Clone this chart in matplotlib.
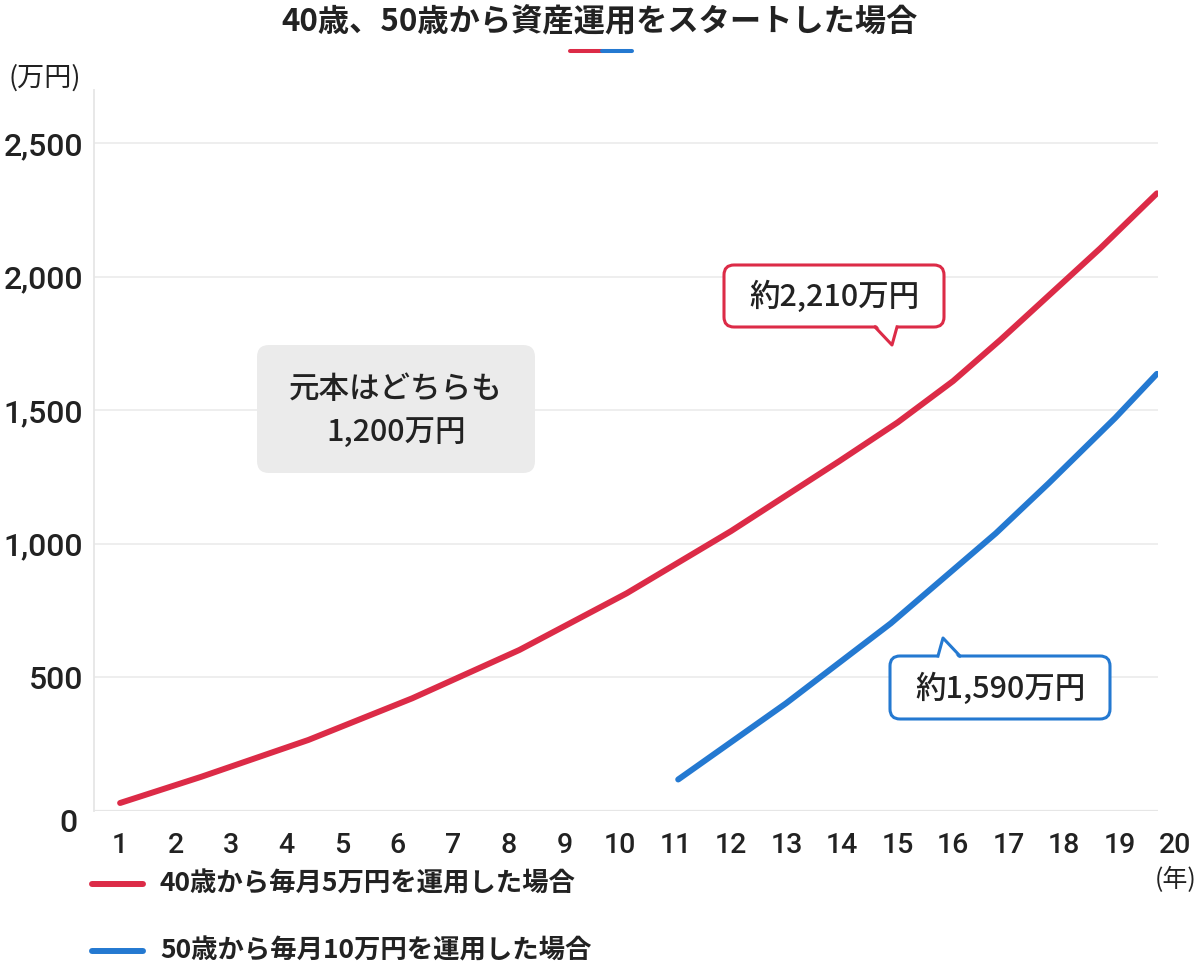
import matplotlib
matplotlib.use("Agg")
import matplotlib.pyplot as plt
from matplotlib.patches import FancyBboxPatch, Polygon
from matplotlib.lines import Line2D
from matplotlib.ticker import FuncFormatter

# values (万円)
years = list(range(1, 21))
red_x = [1.0, 2.46, 4.39, 6.26, 8.19, 10.12, 12.0, 13.95, 15.0, 16.0, 16.85, 18.65, 19.67]
red_y = [30, 128, 266, 422, 603, 815, 1048, 1310, 1455, 1610, 1764, 2107, 2313]
blue_x = [11.05, 12.99, 14.88, 16.77, 17.72, 18.92, 19.67]
blue_y = [118, 403, 703, 1040, 1227, 1472, 1637]
y_ticks = [500, 1000, 1500, 2000, 2500]
series_labels = ["40歳から毎月5万円を運用した場合", "50歳から毎月10万円を運用した場合"]
title = "40歳、50歳から資産運用をスタートした場合"
red_note = "約2,210万円"
blue_note = "約1,590万円"
principal_lines = ["元本はどちらも", "1,200万円"]

RED = "#dc2b47"
BLUE = "#2479d1"
GRID = "#ebebeb"
TEXT = "#222222"
JP = ["Noto Sans CJK JP", "DejaVu Sans"]
NUM = ["Roboto", "Noto Sans CJK JP"]

W, H = 1200, 971
fig = plt.figure(figsize=(W / 100, H / 100), dpi=100)
ax = fig.add_axes([94 / W, 1 - 811 / H, (1158 - 94) / W, (811 - 90) / H])


def px(x, y):
    """picture pixel (y down) -> inches for fig.dpi_scale_trans"""
    return (x / 100, (H - y) / 100)


# lines
ax.plot(red_x, red_y, color=RED, lw=4.3, solid_capstyle="round",
        solid_joinstyle="round", zorder=3)
ax.plot(blue_x, blue_y, color=BLUE, lw=4.3, solid_capstyle="round",
        solid_joinstyle="round", zorder=3)

ax.set_xlim(0.53, 19.69)
ax.set_ylim(0, 2700)

for s in ["top", "right", "bottom"]:
    ax.spines[s].set_visible(False)
ax.spines["left"].set_color("#e6e6e6")
ax.spines["left"].set_linewidth(1.3)
ax.axhline(0, color="#e6e6e6", lw=1.6, zorder=1)

ax.set_yticks(y_ticks)
ax.yaxis.set_major_formatter(FuncFormatter(lambda v, p: f"{int(v):,}"))
ax.grid(axis="y", color=GRID, lw=1.2, zorder=0)
ax.set_axisbelow(True)
ax.tick_params(axis="y", length=0, pad=8, labelsize=23, labelcolor=TEXT)
for lab in ax.get_yticklabels():
    lab.set_family(NUM)
    lab.set_fontweight("medium")

ax.set_xticks(years[:-1])
ax.tick_params(axis="x", length=0, pad=15, labelsize=20.5, labelcolor=TEXT)
for lab in ax.get_xticklabels():
    lab.set_family(NUM)
    lab.set_fontweight("medium")

# labels that fall outside the axis limits
ax.annotate("0", xy=(0, 0), xycoords=("axes fraction", "data"),
            xytext=(-26, -12), textcoords="offset pixels", ha="center",
            va="center", fontsize=23, fontweight="medium", color=TEXT, family=NUM)
ax.annotate(str(years[-1]), xy=(years[-1], 0), xycoords="data",
            xytext=(0, -21), textcoords="offset pixels", ha="center",
            va="top", fontsize=20.5, fontweight="medium", color=TEXT, family=NUM,
            annotation_clip=False)
ax.annotate("(年)", xy=(years[-1], 0), xycoords="data",
            xytext=(0, -69), textcoords="offset pixels", ha="center",
            va="center", fontsize=18, color=TEXT, family=JP, annotation_clip=False)
fig.text(*px(45, 78), "(万円)", transform=fig.dpi_scale_trans, ha="center",
         va="center", fontsize=19.5, color=TEXT, family=JP)

# title and the small colour bar under it
fig.text(*px(600, 22), title, transform=fig.dpi_scale_trans, ha="center",
         va="center", fontsize=22.5, fontweight="bold", color=TEXT, family=JP)
fig.add_artist(Line2D([570 / 100, 602 / 100], [(H - 51) / 100] * 2, color=RED,
                      lw=2.9, solid_capstyle="round", transform=fig.dpi_scale_trans))
fig.add_artist(Line2D([602 / 100, 632 / 100], [(H - 51) / 100] * 2, color=BLUE,
                      lw=2.9, solid_capstyle="round", transform=fig.dpi_scale_trans))


def callout(x0, y0, x1, y1, base, tip, color, text):
    box = FancyBboxPatch(px(x0, y1), (x1 - x0) / 100, (y1 - y0) / 100,
                         boxstyle="round,pad=0,rounding_size=0.1",
                         transform=fig.dpi_scale_trans, facecolor="white",
                         edgecolor=color, lw=2.2, zorder=5)
    fig.add_artist(box)
    if tip[1] > y1:
        edge, inner = y1, y1 - 4
    else:
        edge, inner = y0, y0 + 4
    cover = Polygon([px(base[0], inner), px(base[1], inner), px(*tip)],
                    closed=True, facecolor="white", edgecolor="none",
                    transform=fig.dpi_scale_trans, zorder=6)
    fig.add_artist(cover)
    xs, ys = zip(px(base[0], edge), px(*tip), px(base[1], edge))
    fig.add_artist(Line2D(xs, ys, color=color, lw=2.2, solid_joinstyle="round",
                          transform=fig.dpi_scale_trans, zorder=7))
    fig.text(*px((x0 + x1) / 2, (y0 + y1) / 2 + 1), text,
             transform=fig.dpi_scale_trans, ha="center", va="center",
             fontsize=22, fontweight="medium", color=TEXT, family=JP, zorder=8)


callout(724, 265, 944, 327, (875, 897), (892, 345), RED, red_note)
callout(890, 656, 1110, 719, (938, 960), (943, 638), BLUE, blue_note)

# principal box
gbox = FancyBboxPatch(px(257, 473), (535 - 257) / 100, (473 - 345) / 100,
                      boxstyle="round,pad=0,rounding_size=0.12",
                      transform=fig.dpi_scale_trans, facecolor="#ebebeb",
                      edgecolor="none", zorder=5)
fig.add_artist(gbox)
for line, yy in zip(principal_lines, [389, 432]):
    fig.text(*px(396, yy), line, transform=fig.dpi_scale_trans, ha="center",
             va="center", fontsize=22, fontweight="medium", color=TEXT,
             family=JP, zorder=6)

# legend
for (color, label), yy in zip([(RED, series_labels[0]), (BLUE, series_labels[1])],
                              [884, 951]):
    fig.add_artist(Line2D([92 / 100, 143 / 100], [(H - yy) / 100] * 2, color=color,
                          lw=4.3, solid_capstyle="round",
                          transform=fig.dpi_scale_trans))
    fig.text(*px(160, yy), label, transform=fig.dpi_scale_trans, ha="left",
             va="center", fontsize=19, fontweight="bold", color=TEXT, family=JP)

fig.savefig("out.png", dpi=100, facecolor="white")
